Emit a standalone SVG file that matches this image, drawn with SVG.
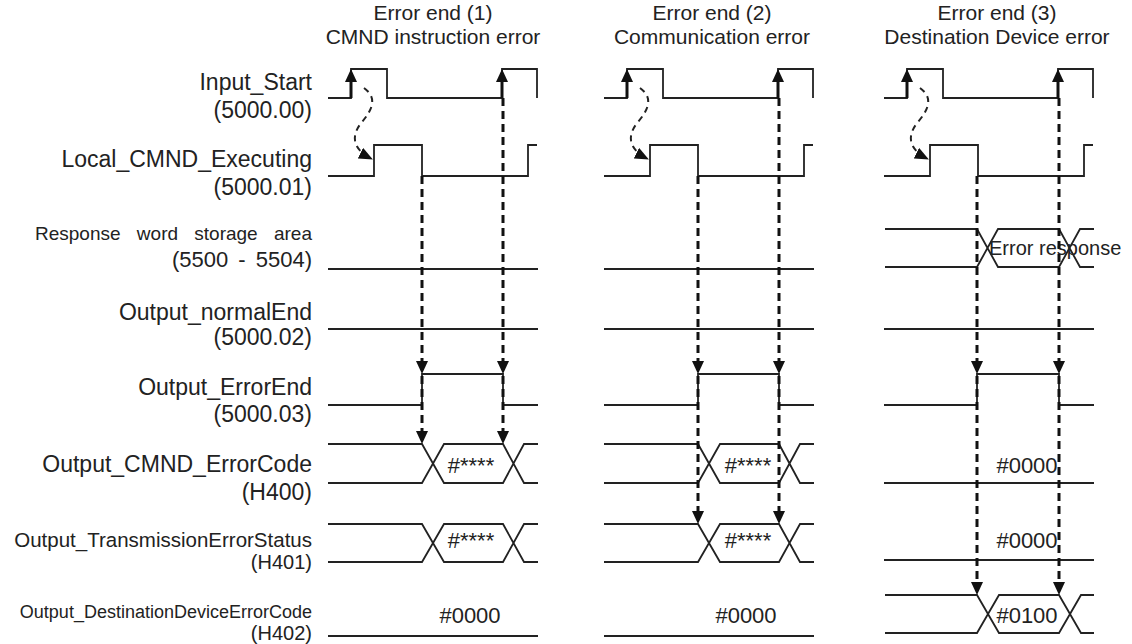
<svg xmlns="http://www.w3.org/2000/svg" width="1132" height="644" viewBox="0 0 1132 644">
<style>
.t{font-family:"Liberation Sans",Arial,sans-serif;fill:#222}
.lbl{font-size:23px;text-anchor:end}
.ttl{font-size:21px;text-anchor:middle}
.val{font-size:22px;text-anchor:middle}
.star{font-size:22px;text-anchor:middle}
.sig{fill:none;stroke:#222;stroke-width:1.8}
.dash{fill:none;stroke:#111;stroke-width:3;stroke-dasharray:8 5}
.cdash{fill:none;stroke:#222;stroke-width:2;stroke-dasharray:6 5}
.up{fill:none;stroke:#111;stroke-width:3}
.ah{fill:#111}
</style>
<defs>
<marker id="cur" markerUnits="userSpaceOnUse" markerWidth="14" markerHeight="12" refX="13" refY="6" orient="auto"><path d="M0,0 L14,6 L0,12 z" fill="#111"/></marker>
</defs>
<rect width="1132" height="644" fill="#fff"/>

<g id="titles" class="t">
<text class="ttl" x="433" y="20">Error end (1)</text>
<text class="ttl" x="433" y="44">CMND instruction error</text>
<text class="ttl" x="712" y="20">Error end (2)</text>
<text class="ttl" x="712" y="44">Communication error</text>
<text class="ttl" x="997" y="20">Error end (3)</text>
<text class="ttl" x="997" y="44">Destination Device error</text>
</g>

<g id="labels" class="t">
<text class="lbl" x="312" y="90">Input_Start</text>
<text class="lbl" x="312" y="118">(5000.00)</text>
<text class="lbl" x="312" y="167">Local_CMND_Executing</text>
<text class="lbl" x="312" y="195">(5000.01)</text>
<text class="lbl" x="312" y="240" style="font-size:19px;word-spacing:11px">Response word storage area</text>
<text class="lbl" x="312" y="267" style="font-size:22px;word-spacing:4px">(5500 - 5504)</text>
<text class="lbl" x="312" y="320">Output_normalEnd</text>
<text class="lbl" x="312" y="345">(5000.02)</text>
<text class="lbl" x="312" y="395">Output_ErrorEnd</text>
<text class="lbl" x="312" y="422">(5000.03)</text>
<text class="lbl" x="312" y="472">Output_CMND_ErrorCode</text>
<text class="lbl" x="312" y="500">(H400)</text>
<text class="lbl" x="312" y="547" style="font-size:20.5px">Output_TransmissionErrorStatus</text>
<text class="lbl" x="312" y="569" style="font-size:20px">(H401)</text>
<text class="lbl" x="312" y="618" style="font-size:18px">Output_DestinationDeviceErrorCode</text>
<text class="lbl" x="312" y="640" style="font-size:20px">(H402)</text>
</g>

<!-- Section 1 -->
<g id="section1">
<g id="s1-input"><path class="sig" d="M328,98 H351 V69 H387 V98 H502 V69 H537 V98"/></g>
<g id="s1-local"><path class="sig" d="M328,176 H374 V145 H422 V176 H528 V145 H537"/></g>
<g id="s1-resp"><path class="sig" d="M328,269 H538"/></g>
<g id="s1-normal"><path class="sig" d="M328,329 H538"/></g>
<g id="s1-errend"><path class="sig" d="M328,405 H422 V374 H503 V405 H538"/></g>
<g id="s1-cmnd"><path class="sig" d="M328,444 H422 L444,483 H503 L524,444 H538 M328,483 H422 L444,444 H503 L524,483 H538"/><text class="t star" x="471" y="473">#****</text></g>
<g id="s1-trans"><path class="sig" d="M328,524 H422 L444,562 H503 L524,524 H538 M328,562 H422 L444,524 H503 L524,562 H538"/><text class="t star" x="471" y="548">#****</text></g>
<g id="s1-dest"><path class="sig" d="M328,636 H538"/><text class="t val" x="470" y="623">#0000</text></g>
</g>

<!-- Section 2 -->
<g id="section2" transform="translate(276,0)">
<g id="s2-input"><path class="sig" d="M328,98 H351 V69 H387 V98 H502 V69 H537 V98"/></g>
<g id="s2-local"><path class="sig" d="M328,176 H374 V145 H422 V176 H528 V145 H537"/></g>
<g id="s2-resp"><path class="sig" d="M328,269 H538"/></g>
<g id="s2-normal"><path class="sig" d="M328,329 H538"/></g>
<g id="s2-errend"><path class="sig" d="M328,405 H422 V374 H503 V405 H538"/></g>
<g id="s2-cmnd"><path class="sig" d="M328,444 H422 L444,483 H503 L524,444 H538 M328,483 H422 L444,444 H503 L524,483 H538"/><text class="t star" x="472" y="473">#****</text></g>
<g id="s2-trans"><path class="sig" d="M328,524 H422 L444,562 H503 L524,524 H538 M328,562 H422 L444,524 H503 L524,562 H538"/><text class="t star" x="472" y="548">#****</text></g>
<g id="s2-dest"><path class="sig" d="M328,636 H538"/><text class="t val" x="470" y="623">#0000</text></g>
</g>

<!-- Section 3 -->
<g id="section3" transform="translate(556,0)">
<g id="s3-input"><path class="sig" d="M328,98 H351 V69 H387 V98 H502 V69 H537 V98"/></g>
<g id="s3-local"><path class="sig" d="M328,176 H374 V145 H422 V176 H528 V145 H537"/></g>
<g id="s3-resp"><path class="sig" d="M329,229 H421 L442,267 H503 L524,229 H538 M329,267 H421 L442,229 H503 L524,267 H538"/><text class="t" x="433" y="255" style="font-size:20px">Error response</text></g>
<g id="s3-normal"><path class="sig" d="M328,329 H538"/></g>
<g id="s3-errend"><path class="sig" d="M328,405 H421 V374 H503 V405 H538"/></g>
<g id="s3-cmnd"><path class="sig" d="M328,483 H538"/><text class="t val" x="471" y="473">#0000</text></g>
<g id="s3-trans"><path class="sig" d="M328,560 H538"/><text class="t val" x="471" y="548">#0000</text></g>
<g id="s3-dest"><path class="sig" d="M329,595 H421 L443,633 H503 L525,595 H538 M329,633 H421 L443,595 H503 L525,633 H538"/><text class="t val" x="471" y="623">#0100</text></g>
</g>

<g id="connectors">
<g id="c1">
<line class="up" x1="351" y1="98" x2="351" y2="80"/><polygon class="ah" points="345,82 357,82 351,69"/>
<line class="up" x1="502" y1="98" x2="502" y2="80"/><polygon class="ah" points="496,82 508,82 502,69"/>
<path class="cdash" d="M364,88 C378,98 372,110 362,122 C352,134 350,148 372,159" marker-end="url(#cur)"/>
<path class="dash" d="M422,176 V361 M422,376 V431"/>
<polygon class="ah" points="416,361 428,361 422,374"/><polygon class="ah" points="416,431 428,431 422,444"/>
<path class="dash" d="M503,98 V361 M503,376 V431"/>
<polygon class="ah" points="497,361 509,361 503,374"/><polygon class="ah" points="497,431 509,431 503,444"/>
</g>
<g id="c2" transform="translate(276,0)">
<line class="up" x1="351" y1="98" x2="351" y2="80"/><polygon class="ah" points="345,82 357,82 351,69"/>
<line class="up" x1="502" y1="98" x2="502" y2="80"/><polygon class="ah" points="496,82 508,82 502,69"/>
<path class="cdash" d="M364,88 C378,98 372,110 362,122 C352,134 350,148 372,159" marker-end="url(#cur)"/>
<path class="dash" d="M422,176 V361 M422,376 V511"/>
<polygon class="ah" points="416,361 428,361 422,374"/><polygon class="ah" points="416,511 428,511 422,524"/>
<path class="dash" d="M503,98 V361 M503,376 V511"/>
<polygon class="ah" points="497,361 509,361 503,374"/><polygon class="ah" points="497,511 509,511 503,524"/>
</g>
<g id="c3" transform="translate(556,0)">
<line class="up" x1="351" y1="98" x2="351" y2="80"/><polygon class="ah" points="345,82 357,82 351,69"/>
<line class="up" x1="502" y1="98" x2="502" y2="80"/><polygon class="ah" points="496,82 508,82 502,69"/>
<path class="cdash" d="M364,88 C378,98 372,110 362,122 C352,134 350,148 372,159" marker-end="url(#cur)"/>
<path class="dash" d="M421,176 V361 M421,376 V582"/>
<polygon class="ah" points="415,361 427,361 421,374"/><polygon class="ah" points="415,582 427,582 421,595"/>
<path class="dash" d="M503,98 V361 M503,376 V582"/>
<polygon class="ah" points="497,361 509,361 503,374"/><polygon class="ah" points="497,582 509,582 503,595"/>
</g>
</g>
</svg>
